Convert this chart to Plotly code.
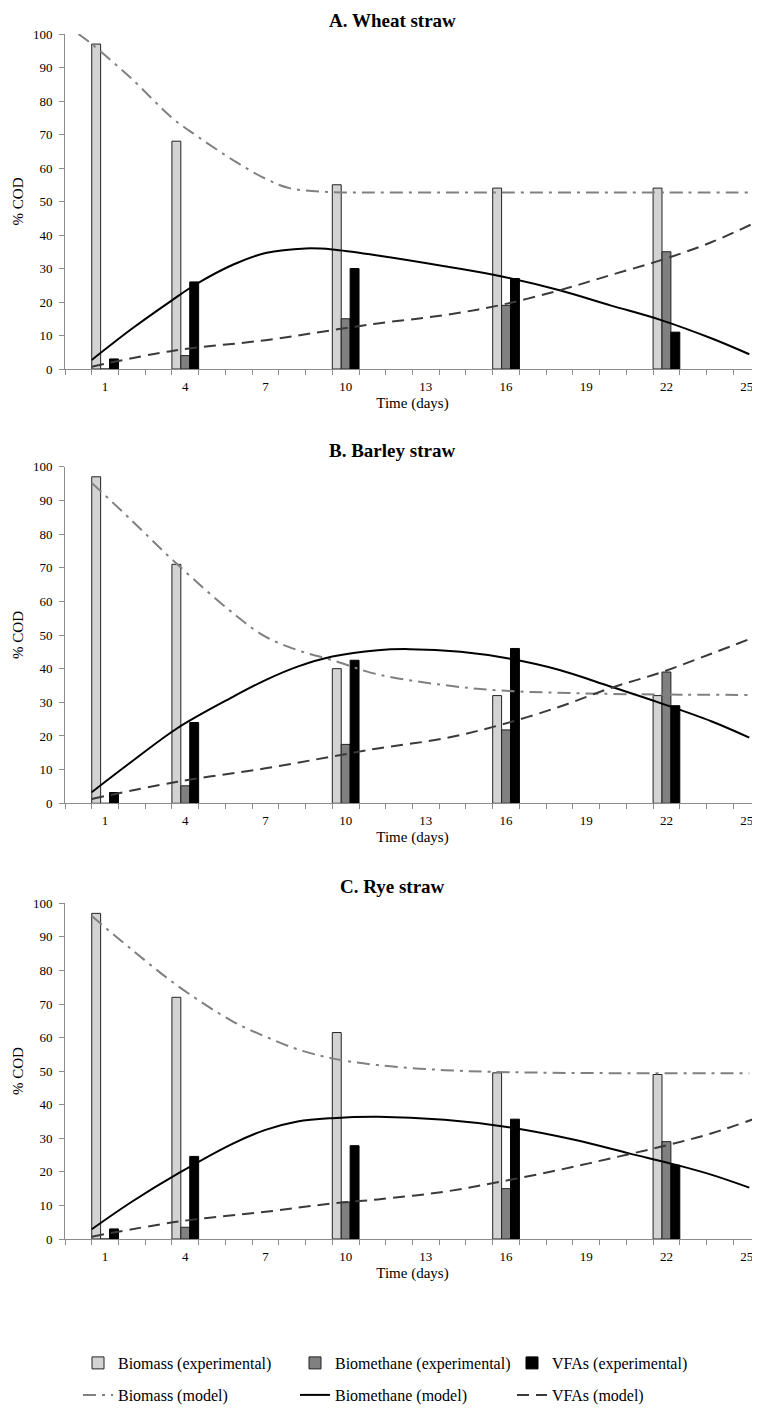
import plotly.graph_objects as go

# ---------------- data ----------------
days = [1, 4, 10, 16, 22]
tick_days = [1, 4, 7, 10, 13, 16, 19, 22, 25]
panel_titles = ["A. Wheat straw", "B. Barley straw", "C. Rye straw"]

# experimental (% COD)
wheat_biomass_exp = [97, 68, 55, 54, 54]
wheat_methane_exp = [0, 4, 15, 19, 35]
wheat_vfa_exp = [3, 26, 30, 27, 11]

barley_biomass_exp = [97, 71, 40, 32, 32]
barley_methane_exp = [0, 5.2, 17.5, 21.8, 39]
barley_vfa_exp = [3.2, 24, 42.5, 46, 29]

rye_biomass_exp = [97, 72, 61.5, 49.5, 49]
rye_methane_exp = [0, 3.5, 11, 15, 29]
rye_vfa_exp = [3, 24.6, 27.8, 35.7, 22]

# model curves (time in days, % COD)
wheat_biomass_t = [0.0, 0.5, 2.0, 3.5, 4.5, 5.8, 7.0, 7.9, 9.5, 11.2, 13.7, 16.0, 19.0, 22.0, 25.1]
wheat_biomass_mod = [100, 97, 86.6, 75, 69.2, 62.3, 56.8, 54, 52.8, 52.7, 52.7, 52.7, 52.7, 52.7, 52.7]
wheat_methane_t = [0.5, 2.0, 3.5, 4.4, 5.8, 7.0, 8.5, 9.5, 11.2, 13.7, 15.8, 18.0, 19.9, 21.8, 23.7, 25.1]
wheat_methane_mod = [2.7, 12, 20.5, 25.3, 31.2, 34.6, 36, 35.7, 33.9, 30.7, 27.7, 23.5, 19, 14.6, 9.1, 4.4]
wheat_vfa_t = [0.5, 3.5, 7.0, 9.5, 11.2, 13.7, 15.8, 18.0, 19.9, 21.8, 23.7, 25.5]
wheat_vfa_mod = [0.7, 5.4, 8.6, 11.6, 13.6, 16.1, 19.1, 23.5, 28.0, 32.5, 37.9, 44.4]

barley_biomass_t = [0.5, 2.0, 3.7, 5.8, 7.0, 8.2, 9.5, 11.2, 13.7, 15.8, 18.7, 22.0, 25.1]
barley_biomass_mod = [95.2, 84, 71, 56.4, 49.5, 45.5, 42.5, 38.3, 35.1, 33.5, 32.7, 32.3, 32.2]
barley_methane_t = [0.5, 2.0, 3.7, 5.8, 7.0, 8.2, 9.5, 11.2, 12.4, 14.3, 16.1, 18.0, 19.9, 21.8, 23.7, 25.1]
barley_methane_mod = [3.3, 12.4, 22.3, 31.7, 36.6, 40.6, 43.6, 45.5, 45.8, 45, 43, 39.6, 34.7, 29.7, 24.3, 19.5]
barley_vfa_t = [0.5, 3.7, 7.0, 9.5, 11.2, 13.7, 15.8, 18.0, 19.9, 21.8, 23.7, 25.5]
barley_vfa_mod = [1.3, 6.4, 10.4, 13.9, 16.3, 19.3, 23.3, 28.7, 34.2, 38.9, 44.5, 50]

rye_biomass_t = [0.5, 2.0, 3.75, 5.8, 7.0, 8.2, 9.5, 11.2, 13.7, 16.1, 20.0, 25.1]
rye_biomass_mod = [96.2, 86.2, 75.2, 64.7, 60.3, 56.5, 53.8, 51.8, 50.3, 49.7, 49.4, 49.4]
rye_methane_t = [0.5, 2.0, 3.75, 5.8, 7.0, 8.2, 9.5, 11.2, 13.7, 16.1, 18.6, 20.6, 22.4, 23.7, 25.1]
rye_methane_mod = [2.9, 11.1, 19.6, 28.5, 32.5, 35, 36, 36.4, 35.5, 33.3, 29.5, 25.5, 22, 19.1, 15.3]
rye_vfa_t = [0.5, 3.75, 7.0, 9.5, 11.2, 13.7, 15.8, 18.0, 19.9, 21.9, 23.7, 25.5]
rye_vfa_mod = [0.7, 5.2, 8.1, 10.6, 11.8, 14.1, 17.1, 20.6, 24.0, 27.7, 31.5, 36.4]

panels = [
    (wheat_biomass_exp, wheat_methane_exp, wheat_vfa_exp,
     (wheat_biomass_t, wheat_biomass_mod), (wheat_methane_t, wheat_methane_mod), (wheat_vfa_t, wheat_vfa_mod)),
    (barley_biomass_exp, barley_methane_exp, barley_vfa_exp,
     (barley_biomass_t, barley_biomass_mod), (barley_methane_t, barley_methane_mod), (barley_vfa_t, barley_vfa_mod)),
    (rye_biomass_exp, rye_methane_exp, rye_vfa_exp,
     (rye_biomass_t, rye_biomass_mod), (rye_methane_t, rye_methane_mod), (rye_vfa_t, rye_vfa_mod)),
]

# ---------------- styling ----------------
# the page body adds an 8px offset, so the figure is laid out in coordinates
# that are shifted by 8px from the screen.
OFF = 8
W, H = 760 - OFF, 1409 - OFF
FONT = "Liberation Serif, Times New Roman, serif"
AXIS_GRAY = "#8c8c8c"
C_BIOMASS = "#d3d3d3"
C_METHANE = "#808080"
C_VFA = "#000000"
L_BIOMASS = "#808080"
L_METHANE = "#000000"
L_VFA = "#3a3a3a"

ML = 65 - OFF           # left margin (screen x of y axis = 65)
PW = W - ML             # plot width

def py(screen_y):
    """screen pixel row -> paper fraction"""
    return 1 - (screen_y - OFF) / H

def px(screen_x):
    return (screen_x - OFF - ML) / PW

rows_px = [(34, 369), (466.7, 803.3), (903.3, 1239)]
title_y_px = [8, 438, 874]   # top edge of each panel title

fig = go.Figure()

bar_w = 1 / 3
for i, (bexp, mexp, vexp, bmod, mmod, vmod) in enumerate(panels):
    xa = "x" if i == 0 else f"x{i+1}"
    ya = "y" if i == 0 else f"y{i+1}"
    first = i == 0
    fig.add_trace(go.Bar(x=days, y=bexp, width=bar_w, offset=-0.5,
                         marker=dict(color=C_BIOMASS, line=dict(color="#222", width=1)),
                         name="Biomass (experimental)", legendgroup="be", showlegend=first,
                         legend="legend", xaxis=xa, yaxis=ya))
    fig.add_trace(go.Bar(x=days, y=mexp, width=bar_w, offset=-0.5 + bar_w,
                         marker=dict(color=C_METHANE, line=dict(color="#222", width=1)),
                         name="Biomethane (experimental)", legendgroup="me", showlegend=first,
                         legend="legend", xaxis=xa, yaxis=ya))
    fig.add_trace(go.Bar(x=days, y=vexp, width=bar_w, offset=-0.5 + 2 * bar_w,
                         marker=dict(color=C_VFA, line=dict(color="#000", width=1)),
                         name="VFAs (experimental)", legendgroup="ve", showlegend=first,
                         legend="legend", xaxis=xa, yaxis=ya))
    fig.add_trace(go.Scatter(x=bmod[0], y=bmod[1], mode="lines",
                             line=dict(color=L_BIOMASS, width=2, dash="13px,6px,3px,6px", shape="spline"),
                             name="Biomass (model)", legendgroup="bm", showlegend=first,
                             legend="legend2", xaxis=xa, yaxis=ya))
    fig.add_trace(go.Scatter(x=mmod[0], y=mmod[1], mode="lines",
                             line=dict(color=L_METHANE, width=2, shape="spline"),
                             name="Biomethane (model)", legendgroup="mm", showlegend=first,
                             legend="legend2", xaxis=xa, yaxis=ya))
    fig.add_trace(go.Scatter(x=vmod[0], y=vmod[1], mode="lines",
                             line=dict(color=L_VFA, width=2, dash="12px,7px", shape="spline"),
                             name="VFAs (model)", legendgroup="vm", showlegend=first,
                             legend="legend2", xaxis=xa, yaxis=ya))

legend_common = dict(orientation="h", x=px(78), xanchor="left", yanchor="top",
                     entrywidth=172, entrywidthmode="pixels",
                     font=dict(family=FONT, size=16, color="black"),
                     traceorder="normal", bgcolor="rgba(0,0,0,0)")

layout = dict(
    width=W, height=H,
    margin=dict(l=ML, r=0, t=0, b=0, autoexpand=False),
    paper_bgcolor="white", plot_bgcolor="white",
    barmode="overlay",
    font=dict(family=FONT, size=13, color="black"),
    legend=dict(legend_common, y=py(1346)),
    legend2=dict(legend_common, y=py(1378)),
    annotations=[],
)

for i in range(3):
    top, bot = rows_px[i]
    sfx = "" if i == 0 else str(i + 1)
    layout[f"xaxis{sfx}"] = dict(
        domain=[0, 1], anchor=f"y{sfx}", range=[-0.5, 25.5],
        tickmode="array", tickvals=tick_days, ticktext=[str(t) for t in tick_days],
        ticks="outside", ticklen=5, tickcolor="rgba(0,0,0,0)",
        showline=True, linecolor=AXIS_GRAY, linewidth=1, showgrid=False, zeroline=False,
        tickfont=dict(family=FONT, size=13, color="black"),
        minor=dict(tickmode="linear", tick0=0.5, dtick=1, ticks="outside", ticklen=5,
                   tickcolor=AXIS_GRAY, showgrid=False),
        title=dict(text="Time (days)", font=dict(family=FONT, size=15, color="black"), standoff=4),
        fixedrange=True,
    )
    layout[f"yaxis{sfx}"] = dict(
        domain=[py(bot), py(top)], anchor=f"x{sfx}", range=[0, 100],
        tickmode="linear", tick0=0, dtick=10,
        ticks="outside", ticklen=5, tickcolor=AXIS_GRAY, ticklabelstandoff=4,
        showline=True, linecolor=AXIS_GRAY, linewidth=1, showgrid=False, zeroline=False,
        tickfont=dict(family=FONT, size=13, color="black"),
        title=dict(text="% COD", font=dict(family=FONT, size=15, color="black"), standoff=5),
        fixedrange=True,
    )
    layout["annotations"].append(dict(
        text=f"<b>{panel_titles[i]}</b>", xref="paper", yref="paper",
        x=px(392), y=py(title_y_px[i]), xanchor="center", yanchor="top",
        showarrow=False, font=dict(family=FONT, size=19, color="black")))

fig.update_layout(**layout)
fig.write_html("out.html")
